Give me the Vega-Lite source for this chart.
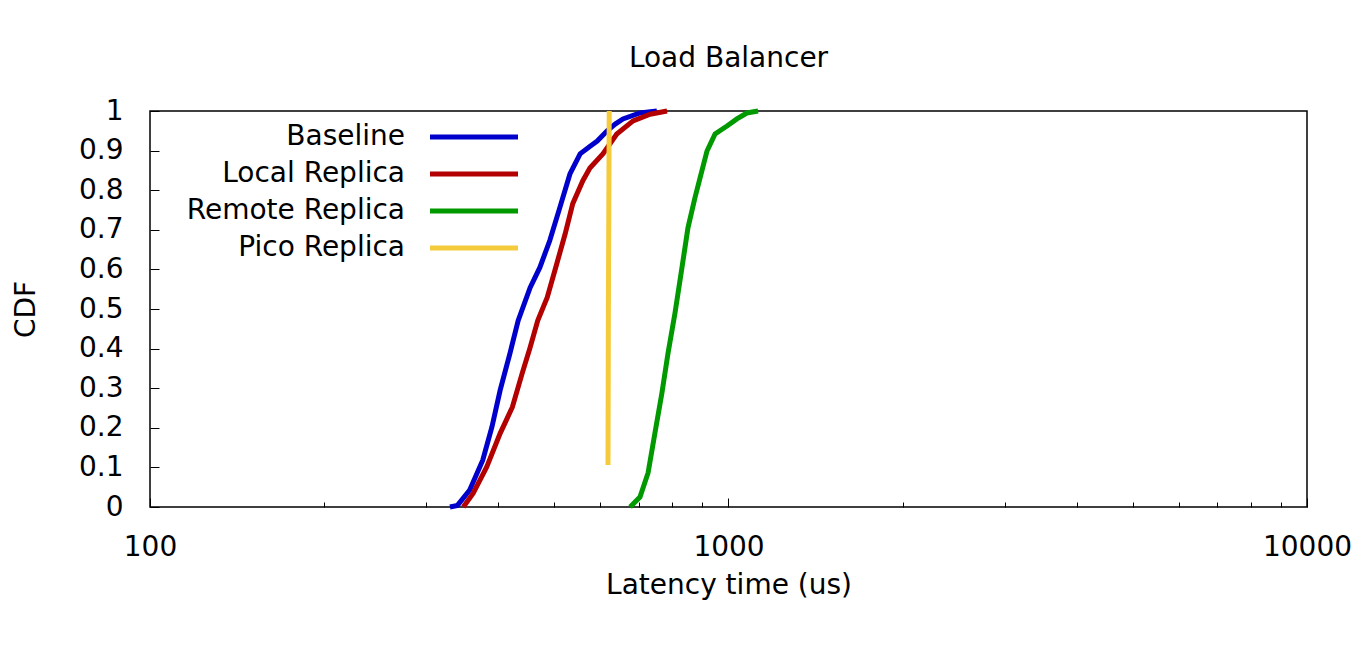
{
  "$schema": "https://vega.github.io/schema/vega-lite/v6.json",
  "autosize": {"type": "none"},
  "width": 1157,
  "height": 396,
  "padding": {"left": 150, "top": 111, "right": 59, "bottom": 147},
  "background": "white",
  "title": {"text": "Load Balancer", "fontSize": 28, "font": "DejaVu Sans", "fontWeight": "normal", "color": "black", "anchor": "middle", "baseline": "alphabetic", "offset": 2},
  "config": {"view": {"stroke": "black", "strokeWidth": 1.5}, "font": "DejaVu Sans"},
  "data": {"values": [
    {"series": "Baseline", "latency": 330, "cdf": 0},
    {"series": "Baseline", "latency": 340, "cdf": 0.004},
    {"series": "Baseline", "latency": 357, "cdf": 0.043},
    {"series": "Baseline", "latency": 376, "cdf": 0.118},
    {"series": "Baseline", "latency": 390, "cdf": 0.202},
    {"series": "Baseline", "latency": 403, "cdf": 0.295},
    {"series": "Baseline", "latency": 419, "cdf": 0.388},
    {"series": "Baseline", "latency": 433, "cdf": 0.471},
    {"series": "Baseline", "latency": 454, "cdf": 0.554},
    {"series": "Baseline", "latency": 472, "cdf": 0.605},
    {"series": "Baseline", "latency": 491, "cdf": 0.673},
    {"series": "Baseline", "latency": 511, "cdf": 0.756},
    {"series": "Baseline", "latency": 532, "cdf": 0.841},
    {"series": "Baseline", "latency": 554, "cdf": 0.892},
    {"series": "Baseline", "latency": 575, "cdf": 0.91},
    {"series": "Baseline", "latency": 593, "cdf": 0.924},
    {"series": "Baseline", "latency": 617, "cdf": 0.95},
    {"series": "Baseline", "latency": 637, "cdf": 0.967},
    {"series": "Baseline", "latency": 657, "cdf": 0.98},
    {"series": "Baseline", "latency": 703, "cdf": 0.995},
    {"series": "Baseline", "latency": 752, "cdf": 1.0},
    {"series": "Local Replica", "latency": 348, "cdf": 0},
    {"series": "Local Replica", "latency": 362, "cdf": 0.035},
    {"series": "Local Replica", "latency": 382, "cdf": 0.101},
    {"series": "Local Replica", "latency": 403, "cdf": 0.186},
    {"series": "Local Replica", "latency": 423, "cdf": 0.252},
    {"series": "Local Replica", "latency": 440, "cdf": 0.338},
    {"series": "Local Replica", "latency": 454, "cdf": 0.403},
    {"series": "Local Replica", "latency": 468, "cdf": 0.471},
    {"series": "Local Replica", "latency": 486, "cdf": 0.529},
    {"series": "Local Replica", "latency": 505, "cdf": 0.615},
    {"series": "Local Replica", "latency": 522, "cdf": 0.69},
    {"series": "Local Replica", "latency": 538, "cdf": 0.766},
    {"series": "Local Replica", "latency": 560, "cdf": 0.824},
    {"series": "Local Replica", "latency": 576, "cdf": 0.856},
    {"series": "Local Replica", "latency": 607, "cdf": 0.892},
    {"series": "Local Replica", "latency": 641, "cdf": 0.942},
    {"series": "Local Replica", "latency": 684, "cdf": 0.975},
    {"series": "Local Replica", "latency": 732, "cdf": 0.992},
    {"series": "Local Replica", "latency": 783, "cdf": 1.0},
    {"series": "Remote Replica", "latency": 676, "cdf": 0},
    {"series": "Remote Replica", "latency": 703, "cdf": 0.025},
    {"series": "Remote Replica", "latency": 726, "cdf": 0.086},
    {"series": "Remote Replica", "latency": 746, "cdf": 0.186},
    {"series": "Remote Replica", "latency": 767, "cdf": 0.287},
    {"series": "Remote Replica", "latency": 786, "cdf": 0.388},
    {"series": "Remote Replica", "latency": 808, "cdf": 0.489},
    {"series": "Remote Replica", "latency": 831, "cdf": 0.605},
    {"series": "Remote Replica", "latency": 851, "cdf": 0.705},
    {"series": "Remote Replica", "latency": 875, "cdf": 0.781},
    {"series": "Remote Replica", "latency": 893, "cdf": 0.831},
    {"series": "Remote Replica", "latency": 918, "cdf": 0.899},
    {"series": "Remote Replica", "latency": 948, "cdf": 0.942},
    {"series": "Remote Replica", "latency": 994, "cdf": 0.962},
    {"series": "Remote Replica", "latency": 1034, "cdf": 0.98},
    {"series": "Remote Replica", "latency": 1076, "cdf": 0.995},
    {"series": "Remote Replica", "latency": 1125, "cdf": 1.0},
    {"series": "Pico Replica", "latency": 619, "cdf": 0.106},
    {"series": "Pico Replica", "latency": 620, "cdf": 0.5},
    {"series": "Pico Replica", "latency": 622, "cdf": 1.0}
  ]},
  "mark": {"type": "line", "strokeWidth": 5},
  "encoding": {
    "x": {
      "field": "latency", "type": "quantitative",
      "scale": {"type": "log", "domain": [100, 10000]},
      "axis": {
        "values": [100, 200, 300, 400, 500, 600, 700, 800, 900, 1000, 2000, 3000, 4000, 5000, 6000, 7000, 8000, 9000, 10000],
        "labelExpr": "datum.value == 100 || datum.value == 1000 || datum.value == 10000 ? format(datum.value, 'd') : ''",
        "tickSize": {"condition": {"test": "datum.value == 100 || datum.value == 1000 || datum.value == 10000", "value": -9}, "value": -5},
        "domain": false, "grid": false,
        "tickColor": "black", "tickWidth": 1,
        "labelFontSize": 28, "labelColor": "black", "labelPadding": 35,
        "labelFlush": false, "labelOverlap": false,
        "title": "Latency time (us)", "titleFontSize": 28, "titleFontWeight": "normal", "titleColor": "black", "titlePadding": 6
      }
    },
    "y": {
      "field": "cdf", "type": "quantitative",
      "scale": {"domain": [0, 1]},
      "axis": {
        "values": [0, 0.1, 0.2, 0.3, 0.4, 0.5, 0.6, 0.7, 0.8, 0.9, 1],
        "format": ".1~f",
        "tickSize": -9,
        "domain": false, "grid": false,
        "tickColor": "black", "tickWidth": 1,
        "labelFontSize": 28, "labelColor": "black", "labelPadding": 36,
        "labelFlush": false, "labelOverlap": false,
        "title": "CDF", "titleFontSize": 28, "titleFontWeight": "normal", "titleColor": "black", "titlePadding": 38
      }
    },
    "color": {
      "field": "series", "type": "nominal",
      "scale": {"domain": ["Baseline", "Local Replica", "Remote Replica", "Pico Replica"], "range": ["#0000cc", "#b30000", "#009900", "#f5cb3b"]},
      "legend": {
        "orient": "none", "legendX": 310, "legendY": 12,
        "title": null, "padding": 0,
        "symbolType": "M-4.4,0H4.4", "symbolSize": 400, "symbolStrokeWidth": 5,
        "symbolOffset": 0,
        "labelFontSize": 28, "labelColor": "black", "labelAlign": "right", "labelOffset": -83, "labelLimit": 0,
        "rowPadding": 9
      }
    }
  }
}
